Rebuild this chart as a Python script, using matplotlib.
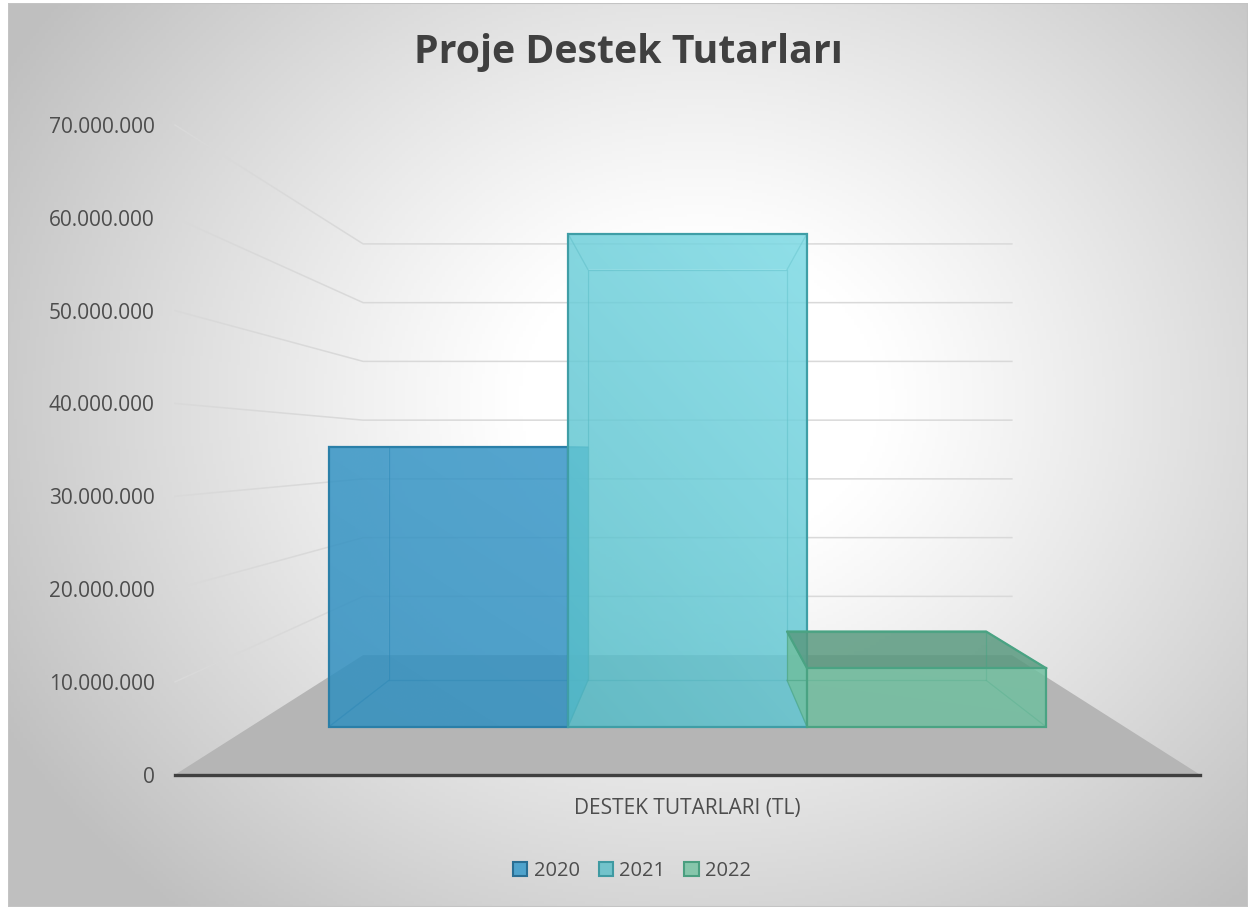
import numpy as np
import matplotlib
matplotlib.use("Agg")
import matplotlib.pyplot as plt
from matplotlib.patches import Polygon, Rectangle, Patch
from matplotlib.lines import Line2D
from matplotlib.colors import to_rgb

# ---------------- data ----------------
title = "Proje Destek Tutarları"
category_label = "DESTEK TUTARLARI (TL)"
series_names = ["2020", "2021", "2022"]
series_values = [35_400_000, 62_300_000, 7_400_000]
y_ticks = [0, 10_000_000, 20_000_000, 30_000_000, 40_000_000,
           50_000_000, 60_000_000, 70_000_000]
tick_labels = ["0", "10.000.000", "20.000.000", "30.000.000", "40.000.000",
               "50.000.000", "60.000.000", "70.000.000"]

# ---------------- style ----------------
face_colors = ["#2f8fc0", "#55bcc8", "#6fbf9f"]
light_colors = ["#3f9fd0", "#8be6f0", "#78c6a6"]
grad_strength = [0.5, 1.0, 0.3]
edge_colors = ["#2a7fa8", "#3f9ea6", "#4aa383"]
legend_face = ["#4fa3cc", "#72c3cb", "#86c6ab"]
legend_edge = ["#2a6f94", "#3f9aa2", "#4a9f80"]
text_color = "#4d4d4d"
font = ["Open Sans", "DejaVu Sans"]
plt.rcParams["font.family"] = font

W, H = 1249, 907
fig = plt.figure(figsize=(W / 100, H / 100), dpi=100)
fig.patch.set_facecolor("white")

# background (radial gradient) of chart area
bx0, by0, bx1, by1 = 8, 3, 1248, 907
bg_ax = fig.add_axes([bx0 / W, 1 - by1 / H, (bx1 - bx0) / W, (by1 - by0) / H])
bg_ax.set_axis_off()
gx = np.linspace(bx0, bx1, 400)
gy = np.linspace(by0, by1, 300)
GX, GY = np.meshgrid(gx, gy)
r = np.sqrt(((GX - 700) / 1.0) ** 2 + ((GY - 400) / 0.85) ** 2)
t = np.clip((r - 180) / 620, 0, 1)
g = 1.0 - 0.25 * t ** 1.1
img = np.dstack([g, g, g])
bg_ax.imshow(img, extent=[0, 1, 0, 1], origin="upper", aspect="auto")
bg_ax.add_patch(Rectangle((0, 0), 1, 1, transform=bg_ax.transAxes, fill=False,
                          edgecolor="#c4c4c4", lw=1.5))
bg_ax.set_xlim(0, 1)
bg_ax.set_ylim(0, 1)

# main axes = front plane of the 3D box
ax_l, ax_r, ax_b, ax_t = 175, 1200, 774.7, 125
ax = fig.add_axes([ax_l / W, 1 - ax_b / H, (ax_r - ax_l) / W, (ax_b - ax_t) / H])
ax.set_facecolor("none")

# perspective parameters
eye_x = 0.5
eye_v = 35_100_000
floor_depth = 0.58
bar_depth = 0.236
bar_z0 = (floor_depth - bar_depth) / 2
bar_z1 = bar_z0 + bar_depth
side_gap = 0.0898
bar_w = (1 - 2 * side_gap) / len(series_values)


def proj(x, v, z):
    s = 1.0 / (1.0 + z)
    return (eye_x + s * (x - eye_x), eye_v + s * (v - eye_v))


def poly(pts, **kw):
    p = Polygon([proj(*q) for q in pts], closed=True, **kw)
    ax.add_patch(p)
    p.set_clip_on(False)
    return p


# gridlines (side wall + back wall)
for v in y_ticks[1:]:
    pts = [proj(0, v, 0), proj(0, v, floor_depth), proj(1, v, floor_depth)]
    xs, ys = zip(*pts)
    ax.add_line(Line2D(xs, ys, color="#d9d9d9", lw=1.1, zorder=1, clip_on=False))

# floor
poly([(0, 0, 0), (1, 0, 0), (1, 0, floor_depth), (0, 0, floor_depth)],
     facecolor="#b5b5b5", edgecolor="none", zorder=2)

# bars
a = 0.6
for i, val in enumerate(series_values):
    fc, lc, ec, gs = face_colors[i], light_colors[i], edge_colors[i], grad_strength[i]
    x0 = side_gap + i * bar_w
    x1 = x0 + bar_w
    z0, z1 = bar_z0, bar_z1
    zb = 3 + i * 0.01
    top_fc = fc
    if val < eye_v:
        top_fc = tuple(0.72 * c for c in to_rgb(fc))
    # back face
    poly([(x0, 0, z1), (x1, 0, z1), (x1, val, z1), (x0, val, z1)],
         facecolor=fc, alpha=a, edgecolor="none", zorder=zb)
    # bottom face
    poly([(x0, 0, z0), (x1, 0, z0), (x1, 0, z1), (x0, 0, z1)],
         facecolor=fc, alpha=a, edgecolor="none", zorder=zb)
    # side faces
    for xx in (x0, x1):
        poly([(xx, 0, z0), (xx, 0, z1), (xx, val, z1), (xx, val, z0)],
             facecolor=fc, alpha=a, edgecolor="none", zorder=zb)
    # top face
    poly([(x0, val, z0), (x1, val, z0), (x1, val, z1), (x0, val, z1)],
         facecolor=top_fc, alpha=a, edgecolor="none", zorder=zb + 0.001)
    # inner edges
    inner = [
        [(x0, 0, z1), (x1, 0, z1), (x1, val, z1), (x0, val, z1), (x0, 0, z1)],
        [(x0, 0, z0), (x0, 0, z1)], [(x1, 0, z0), (x1, 0, z1)],
        [(x0, val, z0), (x0, val, z1)], [(x1, val, z0), (x1, val, z1)],
    ]
    for seg in inner:
        xs, ys = zip(*[proj(*q) for q in seg])
        ax.add_line(Line2D(xs, ys, color=ec, lw=0.9, alpha=0.6,
                           zorder=zb + 0.002, clip_on=False))
    # front face with gradient (lighter to the upper right)
    front = poly([(x0, 0, z0), (x1, 0, z0), (x1, val, z0), (x0, val, z0)],
                 facecolor="none", edgecolor="none", zorder=zb + 0.003)
    (fx0, fy0), (fx1, fy1) = proj(x0, 0, z0), proj(x1, val, z0)
    u = np.linspace(0, 1, 64)
    w = np.linspace(0, 1, 128)
    U, Wg = np.meshgrid(u, w)
    tt = np.clip((0.65 * Wg + 0.35 * U) * gs, 0, 1)[..., None]
    rgb = (1 - tt) * np.array(to_rgb(fc)) + tt * np.array(to_rgb(lc))
    rgba = np.concatenate([rgb, np.full(tt.shape, a)], axis=2)
    im = ax.imshow(rgba, extent=[fx0, fx1, fy0, fy1], origin="lower",
                   aspect="auto", zorder=zb + 0.003, interpolation="bilinear")
    im.set_clip_path(front)
    # front outline
    poly([(x0, 0, z0), (x1, 0, z0), (x1, val, z0), (x0, val, z0)],
         facecolor="none", edgecolor=ec, lw=1.6, zorder=zb + 0.004)
    if val < eye_v:
        seg = [(x0, val, z0), (x0, val, z1), (x1, val, z1), (x1, val, z0)]
        xs, ys = zip(*[proj(*q) for q in seg])
        ax.add_line(Line2D(xs, ys, color=ec, lw=1.6, zorder=zb + 0.004,
                           clip_on=False))

ax.set_xlim(0, 1)
ax.set_ylim(y_ticks[0], y_ticks[-1])

# axes decoration
for side in ("left", "right", "top"):
    ax.spines[side].set_visible(False)
ax.spines["bottom"].set_color("#404040")
ax.spines["bottom"].set_linewidth(2.4)
ax.spines["bottom"].set_zorder(10)
ax.set_xticks([])
ax.set_yticks(y_ticks)
ax.set_yticklabels(tick_labels)
ax.tick_params(axis="y", length=0, pad=14.5, labelsize=15, labelcolor=text_color)
ax.set_xlabel(category_label, fontsize=15, color=text_color, labelpad=17)

fig.text(628.5 / W, 1 - 52 / H, title, ha="center", va="center",
         fontsize=28.3, fontweight="bold", color="#404040")

handles = [Patch(facecolor=lf, edgecolor=le, lw=1.5)
           for lf, le in zip(legend_face, legend_edge)]
fig.legend(handles, series_names, loc="center", ncol=3,
           bbox_to_anchor=(632 / W, 1 - 871 / H), frameon=False,
           fontsize=14.5, labelcolor=text_color, handlelength=0.72,
           handleheight=0.72, handletextpad=0.3, columnspacing=0.95)

fig.savefig("out.png", dpi=100)
